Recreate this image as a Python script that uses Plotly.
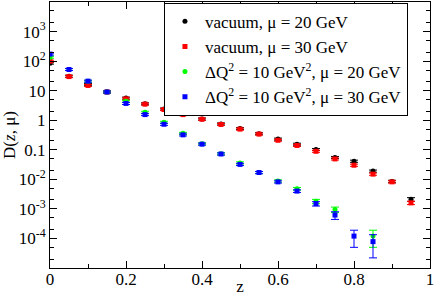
import plotly.graph_objects as go

z = [0.0, 0.05, 0.1, 0.15, 0.2, 0.25, 0.3, 0.35, 0.4, 0.45,
     0.5, 0.55, 0.6, 0.65, 0.7, 0.75, 0.8, 0.85, 0.9, 0.95]

vac20 = [85, 31, 16, 9.2, 5.6, 3.6, 2.4, 1.6, 1.1, 0.75,
         0.52, 0.35, 0.23, 0.155, 0.102, 0.055, 0.041, 0.019, 0.0085, 0.0021]
vac20_err = [6, 2.5, 1.3, 0.7, 0.45, 0.28, 0.19, 0.12, 0.09, 0.06,
             0.04, 0.028, 0.018, 0.012, 0.008, 0.0045, 0.0035, 0.0016, 0.0008, 0.0003]

vac30 = [100, 30, 15, 9.0, 5.3, 3.5, 2.3, 1.55, 1.08, 0.72,
         0.5, 0.34, 0.21, 0.14, 0.089, 0.049, 0.030, 0.015, 0.0082, 0.0016]
vac30_err = [7, 2.4, 1.2, 0.7, 0.42, 0.27, 0.18, 0.12, 0.085, 0.055,
             0.038, 0.026, 0.016, 0.011, 0.007, 0.004, 0.0025, 0.0013, 0.0007, 0.0002]

med20 = [135, 52, 21, 9.0, 4.4, 1.86, 0.85, 0.36, 0.16, 0.074,
         0.036, 0.017, 0.0088, 0.0048, 0.0018, 0.00095, None, 0.00012, None, None]
med20_err = [10, 4, 1.6, 0.7, 0.35, 0.15, 0.07, 0.03, 0.013, 0.006,
             0.003, 0.0014, 0.0008, 0.0005, 0.0003, 0.0002, None, 0.00007, None, None]

med30 = [173, 52, 21, 9.0, 3.7, 1.55, 0.73, 0.32, 0.155, 0.072,
         0.032, 0.017, 0.0082, 0.004, 0.0015, 0.00062, 0.00012, 0.000078, None, None]
med30_err = [13, 4, 1.6, 0.7, 0.3, 0.12, 0.06, 0.026, 0.012, 0.006,
             0.0026, 0.0014, 0.0007, 0.0004, 0.00025, 0.00018, 0.00007, 0.000056, None, None]

names = ["vacuum, μ = 20 GeV",
         "vacuum, μ = 30 GeV",
         "ΔQ<sup>2</sup> = 10 GeV<sup>2</sup>, μ = 20 GeV",
         "ΔQ<sup>2</sup> = 10 GeV<sup>2</sup>, μ = 30 GeV"]

ytickvals = [1e-5, 1e-4, 1e-3, 1e-2, 1e-1, 1, 10, 100, 1e3, 1e4]
yticktext = ["", "10<sup>-4</sup>", "10<sup>-3</sup>", "10<sup>-2</sup>", "0.1", "1", "10",
             "10<sup>2</sup>", "10<sup>3</sup>", ""]
xtickvals = [0, 0.2, 0.4, 0.6, 0.8, 1]
xticktext = ["0", "0.2", "0.4", "0.6", "0.8", "1"]

series = [
    (vac20, vac20_err, "#000000", "circle"),
    (vac30, vac30_err, "#ff0000", "square"),
    (med20, med20_err, "#00ff00", "circle"),
    (med30, med30_err, "#0000ff", "square"),
]

fig = go.Figure()
for (vals, errs, col, sym), nm in zip(series, names):
    fig.add_trace(go.Scatter(
        x=z, y=vals, mode="markers", name=nm,
        marker=dict(color=col, symbol=sym, size=5, line=dict(width=0)),
        error_y=dict(type="data", array=errs, visible=True, color=col,
                     thickness=1, width=4),
    ))

font = "Liberation Serif"
fig.update_layout(
    width=436, height=296,
    margin=dict(l=50, r=6, t=2, b=28),
    paper_bgcolor="white", plot_bgcolor="white",
    font=dict(family=font, size=17, color="black"),
    showlegend=True,
    legend=dict(x=0.942, y=0.997, xanchor="right", yanchor="top",
                bordercolor="black", borderwidth=1, bgcolor="white",
                font=dict(family=font, size=17), itemwidth=30,
                tracegroupgap=0, traceorder="normal"),
    xaxis=dict(range=[0, 1], tickvals=xtickvals, ticktext=xticktext,
               ticks="inside", ticklen=7, tickcolor="black", automargin=False,
               showline=True, linecolor="black", linewidth=1, mirror="allticks",
               showgrid=False, zeroline=False, tickfont=dict(family=font, size=17),
               ticklabelstandoff=-4,
               minor=dict(dtick=0.1, ticks="inside", ticklen=4, tickcolor="black", showgrid=False),
               title=dict(text="z", font=dict(family=font, size=17), standoff=0)),
    yaxis=dict(type="log", range=[-5, 4], tickvals=ytickvals, ticktext=yticktext,
               ticks="inside", ticklen=7, tickcolor="black", automargin=False,
               showline=True, linecolor="black", linewidth=1, mirror="allticks",
               showgrid=False, zeroline=False, tickfont=dict(family=font, size=17),
               minor=dict(ticks="inside", ticklen=4, tickcolor="black", showgrid=False),
               title=dict(text="D(<i>z</i>, μ)", font=dict(family=font, size=17), standoff=2)),
)

fig.write_html("out.html", config={"displayModeBar": False},
               post_script="document.body.style.margin='0';document.body.style.overflow='hidden';")
